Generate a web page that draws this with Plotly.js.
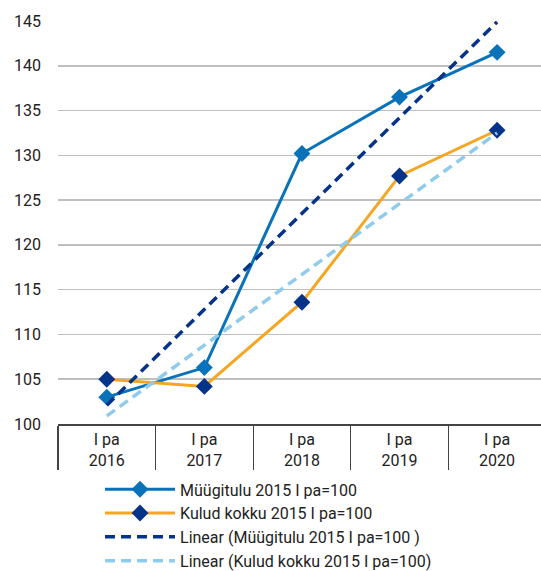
<!DOCTYPE html>
<html>
<head>
<meta charset="utf-8">
<script src="https://cdn.plot.ly/plotly-3.0.1.min.js"></script>
<style>html,body{margin:0;padding:0;background:#fff;}#chart{width:541px;height:571px;}</style>
</head>
<body>
<div id="chart"></div>
<script>
var years = ["2016", "2017", "2018", "2019", "2020"];
var period = ["I pa", "I pa", "I pa", "I pa", "I pa"];
var myygitulu = [103.0, 106.3, 130.2, 136.5, 141.5];
var kulud = [105.0, 104.2, 113.6, 127.7, 132.8];
var trendYears = ["2016", "2020"];
var trendPeriod = ["I pa", "I pa"];
var trendMyygitulu = [102.1, 144.9];
var trendKulud = [100.9, 132.5];
var seriesNames = ["Müügitulu 2015 I pa=100", "Kulud kokku 2015 I pa=100",
  "Linear (Müügitulu 2015 I pa=100 )", "Linear (Kulud kokku 2015 I pa=100)"];
var yTicks = [100, 105, 110, 115, 120, 125, 130, 135, 140, 145];

var traces = [
  {x: [years, period], y: myygitulu, name: seriesNames[0], type: "scatter", mode: "lines+markers",
   line: {color: "#0A72B8", width: 3}, marker: {symbol: "diamond", size: 13, color: "#0A72B8"}},
  {x: [years, period], y: kulud, name: seriesNames[1], type: "scatter", mode: "lines+markers",
   line: {color: "#F5A623", width: 3}, marker: {symbol: "diamond", size: 13, color: "#05338A"}},
  {x: [trendYears, trendPeriod], y: trendMyygitulu, name: seriesNames[2], type: "scatter", mode: "lines",
   line: {color: "#05338A", width: 3.5, dash: "10px,6px"}},
  {x: [trendYears, trendPeriod], y: trendKulud, name: seriesNames[3], type: "scatter", mode: "lines",
   line: {color: "#8FCBEA", width: 3.5, dash: "10px,6px"}}
];

var layout = {
  width: 541, height: 571,
  margin: {l: 58, r: 0, t: 21, b: 147, autoexpand: false},
  paper_bgcolor: "#fff", plot_bgcolor: "#fff",
  font: {family: "Roboto, sans-serif", size: 16, color: "#222"},
  showlegend: true,
  xaxis: {
    type: "multicategory", range: [-0.5, 4.45],
    showline: true, linecolor: "#444", linewidth: 1.5,
    showgrid: false, zeroline: false, tickangle: 0, automargin: false,
    showdividers: true, dividercolor: "#444", dividerwidth: 1.2,
    tickfont: {size: 16, color: "#222"}
  },
  yaxis: {
    range: [100, 145], tickvals: yTicks, ticktext: yTicks.map(String),
    showgrid: true, gridcolor: "#BFBFBF", gridwidth: 1.5, automargin: false,
    zeroline: false, showline: false, ticks: "",
    ticklabelstandoff: 16,
    tickfont: {size: 16, color: "#222"}
  },
  legend: {
    orientation: "v", itemwidth: 70,
    x: 0.087, y: -0.12, xanchor: "left", yanchor: "top",
    font: {size: 16, color: "#222"}, tracegroupgap: 0,
    bgcolor: "rgba(0,0,0,0)"
  }
};

Plotly.newPlot("chart", traces, layout, {displayModeBar: false, staticPlot: true});
</script>
</body>
</html>
